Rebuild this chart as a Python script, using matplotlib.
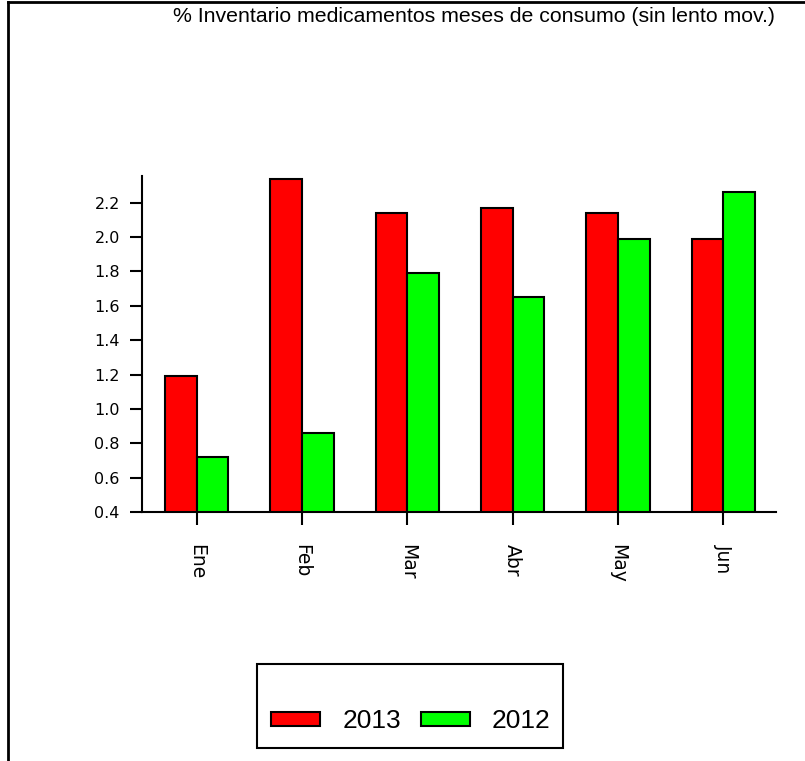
import numpy as np
import matplotlib
matplotlib.use('Agg')
import matplotlib.pyplot as plt
from matplotlib.patches import Rectangle
from matplotlib.lines import Line2D

months = ['Ene', 'Feb', 'Mar', 'Abr', 'May', 'Jun']
vals_2013 = [1.19, 2.34, 2.14, 2.17, 2.14, 1.99]
vals_2012 = [0.72, 0.86, 1.79, 1.65, 1.99, 2.26]
yticks = [0.4, 0.6, 0.8, 1.0, 1.2, 1.4, 1.6, 1.8, 2.0, 2.2]
title = '% Inventario medicamentos meses de consumo (sin lento mov.)'

W, H = 805, 761
fig = plt.figure(figsize=(W/100, H/100), dpi=100)
ax = fig.add_axes([142/W, 1-512/H, (776-142)/W, (512-176)/H])

x = np.arange(len(months))
bw = 0.3
ax.bar(x - bw/2, vals_2013, bw, color='#ff0000', edgecolor='black', lw=1.5, label='2013')
ax.bar(x + bw/2, vals_2012, bw, color='#00ff00', edgecolor='black', lw=1.5, label='2012')

ax.set_xlim(-0.52, 5.5)
ax.set_ylim(0.4, 2.355)
ax.set_yticks(yticks)
ax.set_yticklabels(['%.1f' % v for v in yticks], fontsize=11.5, family='DejaVu Sans')
ax.set_xticks(x)
ax.set_xticklabels(months, rotation=-90, fontsize=13.5, family='DejaVu Sans')
ax.tick_params(axis='y', length=9, width=1.5, pad=7)
ax.tick_params(axis='x', length=9, width=1.5, pad=14)
for s in ['top', 'right']:
    ax.spines[s].set_visible(False)
for s in ['left', 'bottom']:
    ax.spines[s].set_linewidth(1.5)

fig.text(775/W, 1-7/H, title, ha='right', va='top', fontsize=15.3, family='Liberation Sans')

# legend box with entries at its bottom
fig.patches.append(Rectangle((257/W, 1-748/H), (563-257)/W, (748-664)/H,
                             transform=fig.transFigure, fill=False, lw=1.5, ec='black'))
h, l = ax.get_legend_handles_labels()
fig.legend(h, l, ncol=2, frameon=False, loc='center', bbox_to_anchor=(411/W, 1-721/H),
           prop={'family': 'Liberation Sans', 'size': 19}, handlelength=1.85, handleheight=0.45,
           columnspacing=0.75, handletextpad=0.85)

# outer frame (top and left edges only visible)
fig.lines.append(Line2D([8/W, 8/W], [0, 1-2/H], transform=fig.transFigure, color='black', lw=2))
fig.lines.append(Line2D([8/W, 1], [1-2/H, 1-2/H], transform=fig.transFigure, color='black', lw=2))

fig.savefig('out.png', dpi=100)
